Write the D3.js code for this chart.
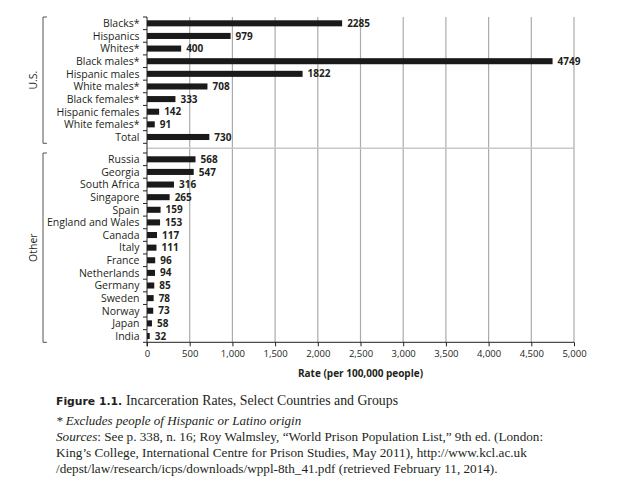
<!DOCTYPE html>
<html>
<head>
<meta charset="utf-8">
<script src="https://cdn.jsdelivr.net/npm/d3@7"></script>
<style>
  html, body { margin: 0; padding: 0; background: #fff; }
  svg { display: block; }
</style>
</head>
<body>
<script>
const usCategories = ["Blacks*", "Hispanics", "Whites*", "Black males*", "Hispanic males", "White males*", "Black females*", "Hispanic females", "White females*", "Total"];
const usValues = [2285, 979, 400, 4749, 1822, 708, 333, 142, 91, 730];
const otherCategories = ["Russia", "Georgia", "South Africa", "Singapore", "Spain", "England and Wales", "Canada", "Italy", "France", "Netherlands", "Germany", "Sweden", "Norway", "Japan", "India"];
const otherValues = [568, 547, 316, 265, 159, 153, 117, 111, 96, 94, 85, 78, 73, 58, 32];
const groupLabels = ["U.S.", "Other"];
const xTicks = [0, 500, 1000, 1500, 2000, 2500, 3000, 3500, 4000, 4500, 5000];
const xTitle = "Rate (per 100,000 people)";
const captionBold = "Figure 1.1.";
const captionTitle = "Incarceration Rates, Select Countries and Groups";
const noteLine = "* Excludes people of Hispanic or Latino origin";
const sourceLines = [
  ["Sources", ": See p. 338, n. 16; Roy Walmsley, \u201CWorld Prison Population List,\u201D 9th ed. (London:"],
  ["", "King\u2019s College, International Centre for Prison Studies, May 2011), http://www.kcl.ac.uk"],
  ["", "/depst/law/research/icps/downloads/wppl-8th_41.pdf (retrieved February 11, 2014)."]
];

const W = 621, H = 493;
const sans = "'Open Sans', 'Noto Sans', sans-serif";
const serif = "'Liberation Serif', 'DejaVu Serif', serif";
const ink = "#231f20";

const svg = d3.select("body").append("svg").attr("width", W).attr("height", H);

const plotTop = 17, plotBottom = 342.3;
const x = d3.scaleLinear().domain([0, 5000]).range([147, 574]);

const groups = [
  { label: groupLabels[0], cats: usCategories, vals: usValues,
    y: d3.scaleBand().domain(usCategories).range([17, 143.3]).paddingInner(0.52).paddingOuter(0.26) },
  { label: groupLabels[1], cats: otherCategories, vals: otherValues,
    y: d3.scaleBand().domain(otherCategories).range([153, 342.3]).paddingInner(0.52).paddingOuter(0.26) }
];

// vertical gridlines
svg.append("g").selectAll("line").data(xTicks.filter(t => t > 0)).join("line")
  .attr("x1", d => x(d)).attr("x2", d => x(d))
  .attr("y1", plotTop).attr("y2", plotBottom)
  .attr("stroke", "#ababab").attr("stroke-width", 1.2);

// separator line between groups
const sepY = (groups[0].y.range()[1] + groups[1].y.range()[0]) / 2;
svg.append("line").attr("x1", x(0)).attr("x2", x(5000))
  .attr("y1", sepY).attr("y2", sepY)
  .attr("stroke", "#c8c8c8").attr("stroke-width", 1.5);

groups.forEach((g, gi) => {
  const y = g.y;
  const step = y.step();
  const data = g.cats.map((c, i) => ({ c, v: g.vals[i] }));

  // bars
  svg.append("g").selectAll("rect").data(data).join("rect")
    .attr("x", x(0)).attr("y", d => y(d.c))
    .attr("width", d => x(d.v) - x(0)).attr("height", y.bandwidth())
    .attr("fill", "#1a1a1a");

  // value labels
  svg.append("g").selectAll("text").data(data).join("text")
    .attr("x", d => x(d.v) + 5).attr("y", d => y(d.c) + y.bandwidth() / 2)
    .attr("dy", "0.36em")
    .attr("font-family", sans).attr("font-size", 10).attr("font-weight", 700)
    .attr("fill", ink).text(d => d.v);

  // category labels
  svg.append("g").selectAll("text").data(data).join("text")
    .attr("x", 139.5).attr("y", d => y(d.c) + y.bandwidth() / 2)
    .attr("dy", "0.36em").attr("text-anchor", "end")
    .attr("font-family", sans).attr("font-size", 10.5)
    .attr("fill", ink).text(d => d.c);

  // left ticks at band boundaries
  const r = y.range();
  const bounds = g.cats.map(c => y(c) + y.bandwidth() / 2 - step / 2).concat([r[1]]);
  svg.append("g").selectAll("line").data(bounds).join("line")
    .attr("x1", x(0) - 4).attr("x2", x(0))
    .attr("y1", d => d).attr("y2", d => d)
    .attr("stroke", "#222").attr("stroke-width", 1);

  // bracket
  const bx = 43;
  svg.append("path")
    .attr("d", `M${bx + 4},${r[0]}H${bx}V${r[1]}H${bx + 4}`)
    .attr("fill", "none").attr("stroke", "#555").attr("stroke-width", 1);
  const cy = (r[0] + r[1]) / 2;
  svg.append("text")
    .attr("transform", `translate(36.5,${cy}) rotate(-90)`)
    .attr("text-anchor", "middle")
    .attr("font-family", sans).attr("font-size", 10.5)
    .attr("fill", ink).text(g.label);
});

// left axis line
svg.append("line").attr("x1", x(0)).attr("x2", x(0))
  .attr("y1", plotTop).attr("y2", plotBottom + 4)
  .attr("stroke", "#222").attr("stroke-width", 1);

// bottom axis
const xAxis = d3.axisBottom(x).tickValues(xTicks).tickSize(4).tickPadding(4)
  .tickFormat(d3.format(","));
const ax = svg.append("g").attr("transform", `translate(0,${plotBottom})`).call(xAxis);
ax.select(".domain").attr("stroke", "#222").attr("d", `M${x(0)},0H${x(5000)}`);
ax.selectAll(".tick line").attr("stroke", "#222");
ax.selectAll(".tick text").attr("font-family", sans).attr("font-size", 9.5).attr("fill", ink);

svg.append("text").attr("x", (x(0) + x(5000)) / 2).attr("y", 376.5)
  .attr("text-anchor", "middle").attr("font-family", sans)
  .attr("font-size", 10).attr("font-weight", 700).attr("fill", ink).text(xTitle);

// caption
const cx0 = 56;
svg.append("text").attr("x", cx0).attr("y", 405).attr("fill", ink)
  .attr("font-family", "'DejaVu Sans', sans-serif").attr("font-weight", 700)
  .attr("font-size", 10.8).text(captionBold);
svg.append("text").attr("x", 126).attr("y", 405).attr("fill", ink)
  .attr("font-family", serif).attr("font-size", 13.8).text(captionTitle);

svg.append("text").attr("x", cx0).attr("y", 425)
  .attr("font-family", serif).attr("font-style", "italic").attr("font-size", 13)
  .attr("fill", ink).text(noteLine);

sourceLines.forEach((ln, i) => {
  const t = svg.append("text").attr("x", cx0).attr("y", 441 + i * 16)
    .attr("font-family", serif).attr("font-size", 13.2).attr("fill", ink);
  if (ln[0]) t.append("tspan").attr("font-style", "italic").text(ln[0]);
  t.append("tspan").text(ln[1]);
});
</script>
</body>
</html>
